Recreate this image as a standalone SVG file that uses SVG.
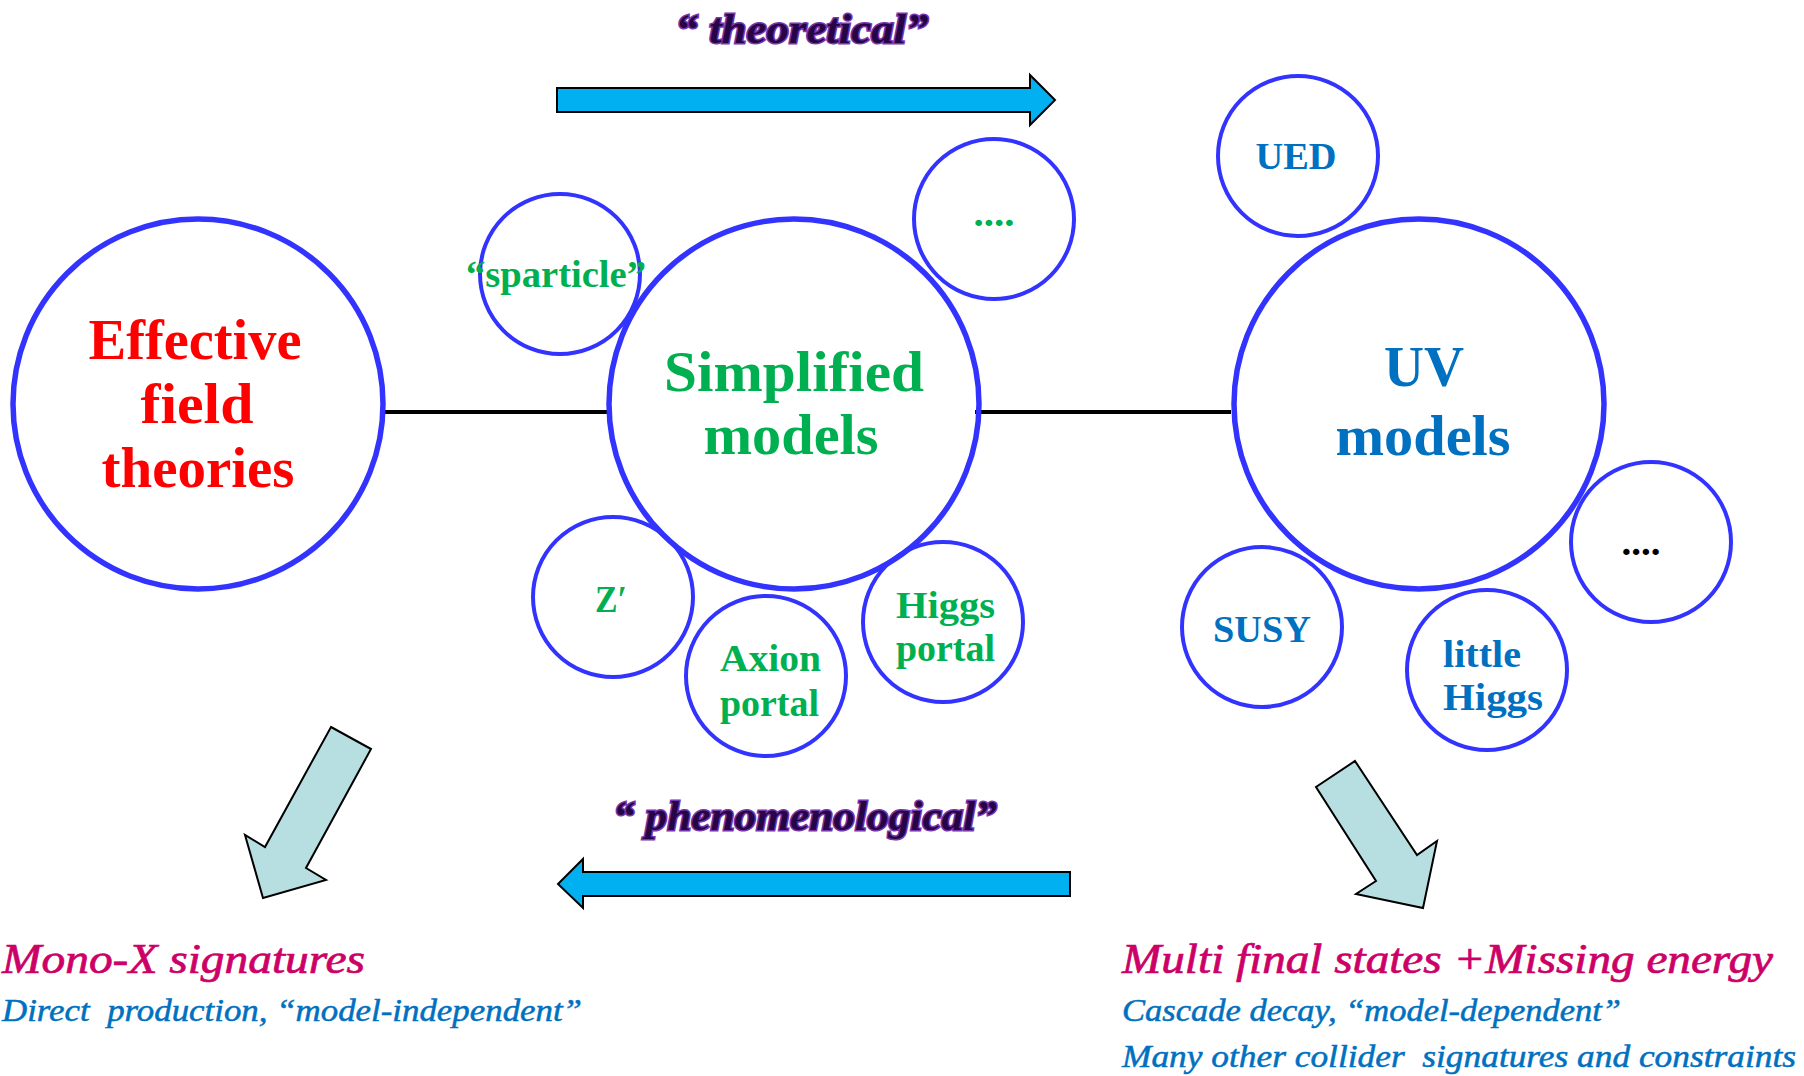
<svg xmlns="http://www.w3.org/2000/svg" width="1804" height="1076" viewBox="0 0 1804 1076">
<style>
.big{fill:none;stroke:#3333FF;stroke-width:5.5}
.small{fill:none;stroke:#3333FF;stroke-width:4}
.conn{stroke:#000;stroke-width:4}
.blk{fill:#00B0F0;stroke:#000;stroke-width:2;stroke-linejoin:miter}
.down{fill:#B7DFE2;stroke:#000;stroke-width:2}
text{font-family:"Liberation Serif","Times New Roman",serif}
.lbl{font-weight:bold;text-anchor:middle;font-size:56px}
.sl{font-weight:bold;font-size:37px}
.red{fill:#FF0000}
.grn{fill:#00B050}
.blu{fill:#0070C0}
.dir{font-style:italic;font-weight:bold;font-size:42px;fill:#250545;stroke:#7A35B0;stroke-width:3;paint-order:stroke;text-anchor:middle}
.sig{font-style:italic;font-size:42px;fill:#CC0066;stroke:#CC0066;stroke-width:0.7}
.sub{font-style:italic;font-size:31px;fill:#0070C0;stroke:#0070C0;stroke-width:0.5;white-space:pre}
</style>

<g id="connectors">
<line class="conn" x1="384" y1="412" x2="607" y2="412"/>
<line class="conn" x1="975" y1="412" x2="1231" y2="412"/>
</g>

<g id="arrows">
<polygon class="blk" points="557,88 1030,88 1030,75 1055,100 1030,125 1030,112 557,112"/>
<polygon class="blk" points="1070,872 583,872 583,859 558,884 583,908 583,896 1070,896"/>
<polygon class="down" points="331,727 371,749 306,868 326,880 263,898 245,835 265,847"/>
<polygon class="down" points="1355,761 1417,855 1437,841 1423,908 1356,894 1376,881 1316,787"/>
</g>

<g id="label-theoretical"><text class="dir" x="802" y="43" textLength="253" lengthAdjust="spacingAndGlyphs">“ theoretical”</text></g>
<g id="label-phenomenological"><text class="dir" x="805" y="830" textLength="384" lengthAdjust="spacingAndGlyphs">“ phenomenological”</text></g>

<g id="eft">
<circle class="big" cx="198" cy="404" r="185"/>
<text class="lbl red" x="195" y="359" textLength="213" lengthAdjust="spacingAndGlyphs">Effective</text>
<text class="lbl red" x="197" y="423" textLength="113" lengthAdjust="spacingAndGlyphs">field</text>
<text class="lbl red" x="198" y="487" textLength="193" lengthAdjust="spacingAndGlyphs">theories</text>
</g>

<g id="simplified">
<circle class="big" cx="794" cy="404" r="185"/>
<text class="lbl grn" x="794" y="391" textLength="260" lengthAdjust="spacingAndGlyphs">Simplified</text>
<text class="lbl grn" x="791" y="454" textLength="175" lengthAdjust="spacingAndGlyphs">models</text>
</g>

<g id="uv">
<circle class="big" cx="1419" cy="404" r="185"/>
<text class="lbl blu" x="1424" y="386" textLength="80" lengthAdjust="spacingAndGlyphs">UV</text>
<text class="lbl blu" x="1423" y="455" textLength="175" lengthAdjust="spacingAndGlyphs">models</text>
</g>

<g id="sparticle">
<circle class="small" cx="560" cy="274" r="80"/>
<text class="sl grn" x="556" y="287" font-size="34" text-anchor="middle" textLength="180" lengthAdjust="spacingAndGlyphs">“sparticle”</text>
</g>

<g id="sm-more">
<circle class="small" cx="994" cy="219" r="80"/>
<text class="sl grn" x="994" y="226" text-anchor="middle" textLength="41" lengthAdjust="spacingAndGlyphs">....</text>
</g>

<g id="zprime">
<circle class="small" cx="613" cy="597" r="80"/>
<text class="sl grn" x="611" y="612" text-anchor="middle" textLength="32" lengthAdjust="spacingAndGlyphs">Z′</text>
</g>

<g id="axion">
<circle class="small" cx="766" cy="676" r="80"/>
<text class="sl grn" x="720" y="671" textLength="101" lengthAdjust="spacingAndGlyphs">Axion</text>
<text class="sl grn" x="720" y="716" textLength="99" lengthAdjust="spacingAndGlyphs">portal</text>
</g>

<g id="higgs-portal">
<circle class="small" cx="943" cy="622" r="80"/>
<text class="sl grn" x="896" y="618" textLength="99" lengthAdjust="spacingAndGlyphs">Higgs</text>
<text class="sl grn" x="896" y="661" textLength="99" lengthAdjust="spacingAndGlyphs">portal</text>
</g>

<g id="ued">
<circle class="small" cx="1298" cy="156" r="80"/>
<text class="sl blu" x="1296" y="169" text-anchor="middle" textLength="81" lengthAdjust="spacingAndGlyphs">UED</text>
</g>

<g id="uv-more">
<circle class="small" cx="1651" cy="542" r="80"/>
<text class="sl" x="1641" y="555" fill="#000" text-anchor="middle" textLength="39" lengthAdjust="spacingAndGlyphs">....</text>
</g>

<g id="susy">
<circle class="small" cx="1262" cy="627" r="80"/>
<text class="sl blu" x="1262" y="642" text-anchor="middle" textLength="98" lengthAdjust="spacingAndGlyphs">SUSY</text>
</g>

<g id="little-higgs">
<circle class="small" cx="1487" cy="670" r="80"/>
<text class="sl blu" x="1443" y="667" textLength="78" lengthAdjust="spacingAndGlyphs">little</text>
<text class="sl blu" x="1443" y="710" textLength="100" lengthAdjust="spacingAndGlyphs">Higgs</text>
</g>

<g id="mono-x">
<text class="sig" x="2" y="973" textLength="363" lengthAdjust="spacingAndGlyphs">Mono-X signatures</text>
<text class="sub" x="2" y="1021" textLength="580" lengthAdjust="spacingAndGlyphs">Direct  production, “model-independent”</text>
</g>

<g id="multi">
<text class="sig" x="1122" y="973" textLength="651" lengthAdjust="spacingAndGlyphs">Multi final states +Missing energy</text>
<text class="sub" x="1122" y="1021" textLength="499" lengthAdjust="spacingAndGlyphs">Cascade decay, “model-dependent”</text>
<text class="sub" x="1122" y="1067" textLength="674" lengthAdjust="spacingAndGlyphs">Many other collider  signatures and constraints</text>
</g>
</svg>
